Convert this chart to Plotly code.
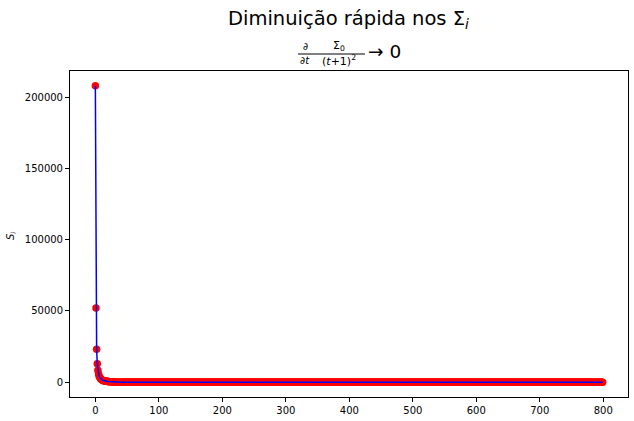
import plotly.graph_objects as go

# ---- data ----
t_values = list(range(800))
s_head = [208000, 52000, 23100, 13000, 8320, 5780, 4240, 3250, 2570, 2080,
          1720, 1440, 1230, 1060, 920, 810, 720, 640, 580, 520,
          470, 430, 390, 360, 330, 310, 280, 260, 250, 230]
tail_level = 0  # remaining points all sit visually on zero
s_values = s_head + [tail_level] * (len(t_values) - len(s_head))

x_ticks = [0, 100, 200, 300, 400, 500, 600, 700, 800]
y_ticks = [0, 50000, 100000, 150000, 200000]

title_line1 = "Diminuição rápida nos Σ<sub><i>i</i></sub>"
y_label = "<i>S<sub>i</sub></i>"

# ---- layout geometry (pixels) ----
W, H = 634, 421
L, R, T, B = 70, 628, 71, 397
FONT = "DejaVu Sans"


def px(x):
    return (x - L) / (R - L)


def py(y):
    return (B - y) / (B - T)


fig = go.Figure()
fig.add_trace(go.Scatter(x=t_values, y=s_values, mode="markers",
                         marker=dict(color="red", size=7.5, line=dict(width=0)),
                         showlegend=False))
fig.add_trace(go.Scatter(x=t_values, y=s_values, mode="lines",
                         line=dict(color="blue", width=1.5),
                         showlegend=False))

ymax = max(s_values)
xmax = max(t_values)
fig.update_xaxes(range=[-0.05 * xmax, 1.05 * xmax], tickvals=x_ticks,
                 ticks="outside", ticklen=4, tickwidth=1, tickcolor="black",
                 showline=True, linecolor="black", linewidth=1, mirror=True,
                 showgrid=False, zeroline=False,
                 tickfont=dict(family=FONT, size=10, color="black"))
fig.update_yaxes(range=[-0.05 * ymax, 1.05 * ymax], tickvals=y_ticks,
                 tickformat="d",
                 ticks="outside", ticklen=4, tickwidth=1, tickcolor="black",
                 showline=True, linecolor="black", linewidth=1, mirror=True,
                 showgrid=False, zeroline=False,
                 tickfont=dict(family=FONT, size=10, color="black"))

ann = []


def add_text(text, x, y, size, xanchor="center", angle=0):
    ann.append(dict(text=text, x=px(x), y=py(y), xref="paper", yref="paper",
                    xanchor=xanchor, yanchor="middle", showarrow=False,
                    textangle=angle,
                    font=dict(family=FONT, size=size, color="black")))


add_text(title_line1, 348, 19, 19.5)
add_text("∂", 305, 47, 10)
add_text("∂<i>t</i>", 305, 61, 10)
add_text("Σ<sub>0</sub>", 339, 46, 11)
add_text("(<i>t</i>+1)<sup>2</sup>", 339, 61, 11)
add_text("→ 0", 366, 52, 18.5, xanchor="left")
add_text(y_label, 11, 236, 10, angle=-90)

fig.update_layout(
    width=W, height=H,
    margin=dict(l=L, r=W - R, t=T, b=H - B, pad=0),
    plot_bgcolor="white", paper_bgcolor="white",
    annotations=ann,
    shapes=[dict(type="line", xref="paper", yref="paper",
                 x0=px(298), x1=px(365), y0=py(54), y1=py(54),
                 line=dict(color="black", width=1))],
)

fig.write_html("out.html")
